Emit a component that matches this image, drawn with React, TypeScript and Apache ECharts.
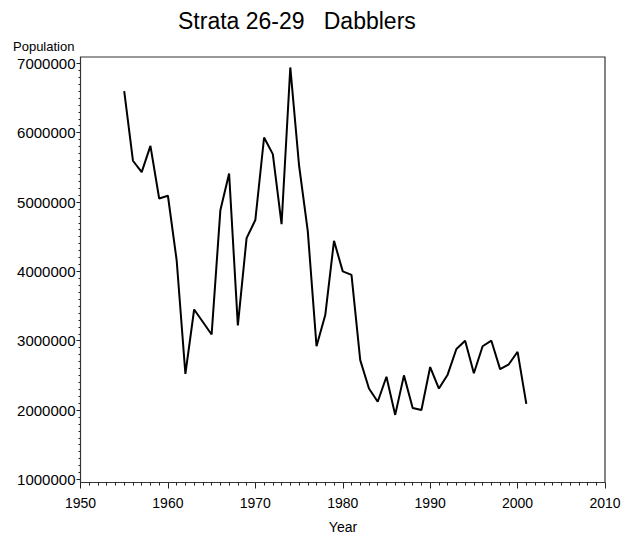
import React, { useEffect, useRef } from "react";
import * as echarts from "echarts";

const titleText = "Strata 26-29   Dabblers";
const yAxisTitle = "Population";
const xAxisTitle = "Year";

const years = [
  1955, 1956, 1957, 1958, 1959, 1960, 1961, 1962, 1963, 1964,
  1965, 1966, 1967, 1968, 1969, 1970, 1971, 1972, 1973, 1974,
  1975, 1976, 1977, 1978, 1979, 1980, 1981, 1982, 1983, 1984,
  1985, 1986, 1987, 1988, 1989, 1990, 1991, 1992, 1993, 1994,
  1995, 1996, 1997, 1998, 1999, 2000, 2001,
];

const population = [
  6600000, 5595000, 5430000, 5810000, 5050000, 5090000, 4160000, 2520000, 3450000, 3270000,
  3090000, 4880000, 5410000, 3220000, 4480000, 4740000, 5930000, 5690000, 4680000, 6940000,
  5530000, 4580000, 2920000, 3370000, 4440000, 4000000, 3950000, 2720000, 2310000, 2120000,
  2480000, 1930000, 2500000, 2030000, 2000000, 2620000, 2310000, 2510000, 2880000, 3000000,
  2530000, 2920000, 3000000, 2590000, 2660000, 2840000, 2090000,
];

const xTicks = { min: 1950, max: 2010, step: 10 };
const yTicks = { min: 1000000, max: 7000000, step: 1000000 };

const FONT = '"Liberation Sans", Arial, sans-serif';

export default function App() {
  const ref = useRef<HTMLDivElement>(null);
  useEffect(() => {
    if (!ref.current) return;
    const chart = echarts.init(ref.current, undefined, { renderer: "svg" });
    const data = years.map((y, i) => [y, population[i]]);
    chart.setOption({
      animation: false,
      backgroundColor: "#fff",
      grid: { left: 80.5, right: 31, top: 63.3, bottom: 60.6, containLabel: false },
      xAxis: {
        type: "value",
        min: xTicks.min,
        max: xTicks.max,
        interval: xTicks.step,
        offset: 3.1,
        axisLine: { show: false },
        axisTick: { show: true, inside: false, length: 6, lineStyle: { color: "#222", width: 1 } },
        minorTick: { show: true, splitNumber: 10, length: 3, lineStyle: { color: "#222", width: 1 } },
        splitLine: { show: false },
        axisLabel: {
          color: "#000",
          fontSize: 14,
          fontFamily: FONT,
          margin: 13,
          formatter: (v: number) => String(v),
        },
      },
      yAxis: {
        type: "value",
        min: yTicks.min,
        max: yTicks.max,
        interval: yTicks.step,
        axisLine: { show: false },
        axisTick: { show: true, inside: false, length: 4, lineStyle: { color: "#222", width: 1 } },
        minorTick: { show: true, splitNumber: 10, length: 2, lineStyle: { color: "#222", width: 1 } },
        splitLine: { show: false },
        axisLabel: {
          color: "#000",
          fontSize: 15,
          fontFamily: FONT,
          margin: 5,
          formatter: (v: number) => String(v),
        },
      },
      graphic: [
        {
          type: "rect",
          silent: true,
          shape: { x: 80.5, y: 57, width: 524.5, height: 425.5 },
          style: { fill: "none", stroke: "#333", lineWidth: 1.2 },
          z: 10,
        },
        {
          type: "text",
          style: {
            text: titleText,
            x: 178,
            y: 20.5,
            textAlign: "left",
            textVerticalAlign: "middle",
            font: `23px ${FONT}`,
            fill: "#000",
          },
        },
        {
          type: "text",
          style: {
            text: yAxisTitle,
            x: 13,
            y: 46,
            textAlign: "left",
            textVerticalAlign: "middle",
            font: `13px ${FONT}`,
            fill: "#000",
          },
        },
        {
          type: "text",
          style: {
            text: xAxisTitle,
            x: 343,
            y: 526.5,
            textAlign: "center",
            textVerticalAlign: "middle",
            font: `14px ${FONT}`,
            fill: "#000",
          },
        },
      ],
      series: [
        {
          type: "line",
          data,
          showSymbol: false,
          symbol: "none",
          lineStyle: { color: "#000", width: 2 },
          clip: false,
        },
      ],
    });
    return () => chart.dispose();
  }, []);
  return (
    <div
      ref={ref}
      style={{ position: "fixed", left: 0, top: 0, width: 636, height: 540, background: "#fff" }}
    />
  );
}
